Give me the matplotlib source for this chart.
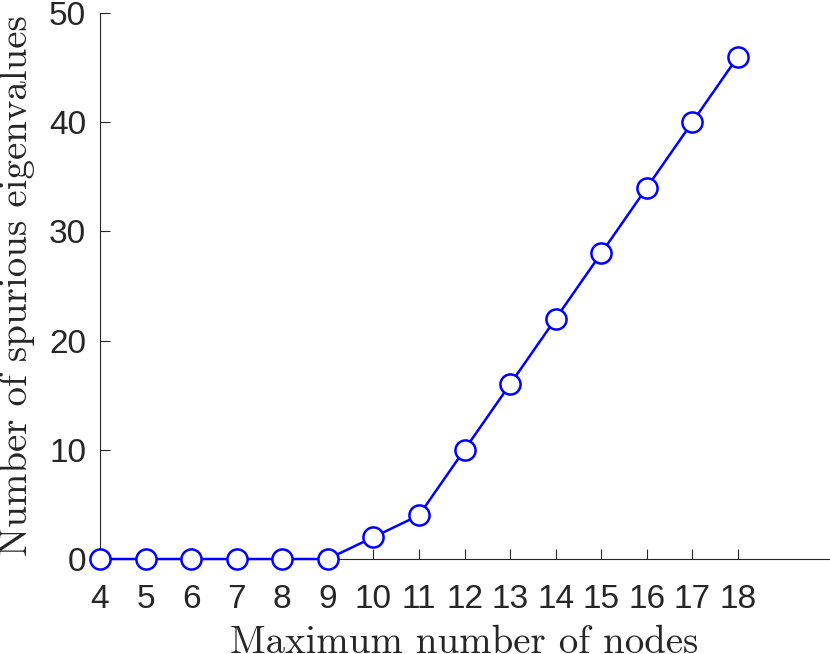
import numpy as np
import matplotlib.pyplot as plt

# spurious eigenvalue count vs max nodes
max_nodes = [4, 5, 6, 7, 8, 9, 10, 11, 12, 13, 14, 15, 16, 17, 18]
n_spurious = [0, 0, 0, 0, 0, 0, 2, 4, 10, 16, 22, 28, 34, 40, 46]
x_ticks = list(range(4, 19))
y_ticks = [0, 10, 20, 30, 40, 50]

fig = plt.figure(figsize=(8.3, 6.54), dpi=100)
ax = fig.add_axes([100 / 830, 95 / 654, 729 / 830, 546 / 654])

ax.plot(max_nodes, n_spurious, color='#0000ff', lw=1.8, marker='o', ms=14.5,
        mfc='white', mec='#0000ff', mew=1.8, clip_on=False, zorder=3)

ax.set_xlim(4, 20)
ax.set_ylim(0, 50)
ax.set_xticks(x_ticks)
ax.set_yticks(y_ticks)

dark = '#262626'
for s in ['top', 'right']:
    ax.spines[s].set_visible(False)
for s in ['left', 'bottom']:
    ax.spines[s].set_color(dark)
    ax.spines[s].set_linewidth(0.8)
ax.tick_params(direction='in', length=7, width=0.8, colors=dark, labelsize=24)
ax.tick_params(axis='x', pad=18)
ax.tick_params(axis='y', pad=10)
for lbl in ax.get_xticklabels() + ax.get_yticklabels():
    lbl.set_family('Liberation Sans')

ax.set_xlabel('Maximum number of nodes', family='cmr10', fontsize=28,
              color=dark, labelpad=7)
ax.set_ylabel('Number of spurious eigenvalues', family='cmr10', fontsize=28,
              color=dark, labelpad=10)

fig.savefig('out.png', dpi=100)
